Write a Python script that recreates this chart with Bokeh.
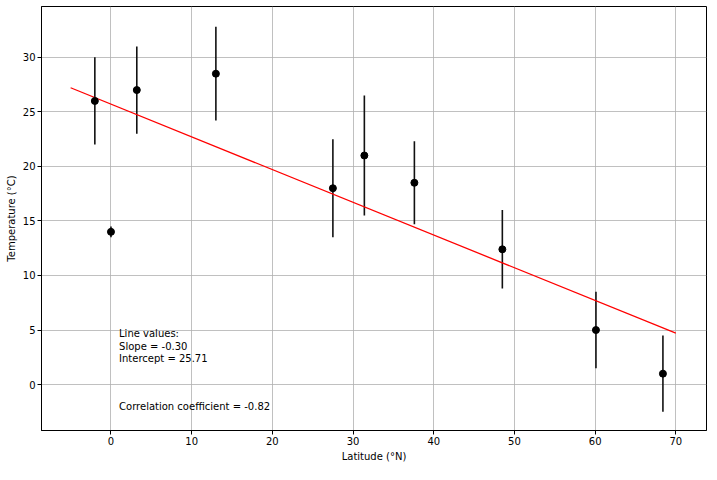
from bokeh.plotting import figure
from bokeh.models import Range1d, ColumnDataSource
from bokeh.core.properties import value
from bokeh.embed import file_html
from bokeh.resources import INLINE

latitude = [-2.0, 0.0, 3.2, 13.0, 27.5, 31.4, 37.6, 48.5, 60.1, 68.4]
temperature = [26.0, 14.0, 27.0, 28.5, 18.0, 21.0, 18.5, 12.4, 5.0, 1.0]
temp_err = [4.0, 0.5, 4.0, 4.3, 4.5, 5.5, 3.8, 3.6, 3.5, 3.5]
slope = -0.30
intercept = 25.71
fit_x = [-5.0, 70.0]
corr = -0.82

FONT = "DejaVu Sans"

p = figure(width=708, height=464, output_backend="svg", toolbar_location=None,
           x_range=Range1d(-8.61, 73.8), y_range=Range1d(-4.21, 34.66),
           min_border_left=41, min_border_right=2, min_border_top=6, min_border_bottom=30)

src = ColumnDataSource(dict(
    x=latitude, y=temperature,
    lo=[t - e for t, e in zip(temperature, temp_err)],
    hi=[t + e for t, e in zip(temperature, temp_err)],
))

p.segment(x0="x", y0="lo", x1="x", y1="hi", source=src, line_color="#111111", line_width=1.6)
p.line(fit_x, [slope * v + intercept for v in fit_x], line_color="red", line_width=1.3)
p.scatter(x="x", y="y", source=src, size=7, fill_color="black", line_color="black", line_width=1)

p.text(x=[1], y=[1.85], text=["Line values:\nSlope = %.2f\nIntercept = %.2f" % (slope, intercept)],
       text_font=value(FONT), text_font_size="10px", text_baseline="bottom", text_align="left",
       text_color="black", text_line_height=1.15)
p.text(x=[1], y=[-2.0], text=["Correlation coefficient = %.2f" % corr],
       text_font=value(FONT), text_font_size="10px", text_baseline="alphabetic", text_align="left",
       text_color="black")

p.xaxis.axis_label = "Latitude (°N)"
p.yaxis.axis_label = "Temperature (°C)"
p.xaxis.ticker = [0, 10, 20, 30, 40, 50, 60, 70]
p.yaxis.ticker = [0, 5, 10, 15, 20, 25, 30]
for ax in (p.xaxis, p.yaxis):
    ax.axis_label_text_font = FONT
    ax.axis_label_text_font_size = "10px"
    ax.axis_label_text_font_style = "normal"
    ax.axis_label_text_color = "black"
    ax.major_label_text_font = FONT
    ax.major_label_text_font_size = "10px"
    ax.major_label_text_color = "black"
    ax.axis_line_color = "black"
    ax.major_tick_line_color = "black"
    ax.major_tick_out = 4
    ax.major_tick_in = 0
    ax.minor_tick_line_color = None
    ax.axis_label_standoff = 3
    ax.major_label_standoff = 2

p.grid.grid_line_color = "#b0b0b0"
p.grid.grid_line_width = 0.8
p.outline_line_color = "black"
p.outline_line_alpha = 1
p.outline_line_width = 1
p.background_fill_color = "white"
p.border_fill_color = "white"

open("out.html", "w").write(file_html(p, INLINE))
